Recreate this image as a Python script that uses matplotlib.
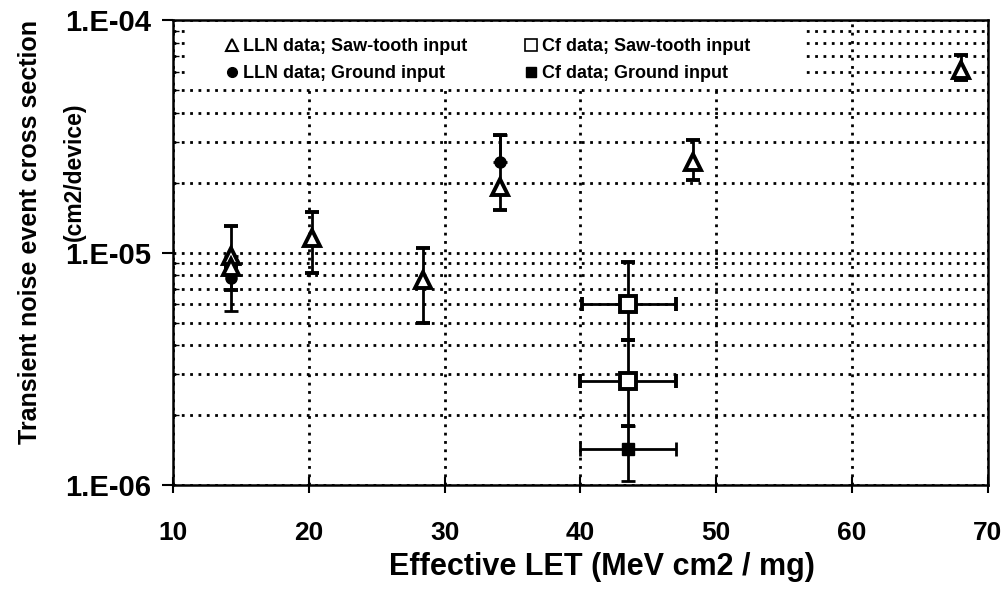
import matplotlib
matplotlib.use("Agg")
import matplotlib.pyplot as plt
from matplotlib.lines import Line2D
from matplotlib.patches import Rectangle
import numpy as np

plt.rcParams['font.family'] = ['Liberation Sans', 'DejaVu Sans']
plt.rcParams['font.weight'] = 'bold'

# LLN data, saw-tooth input (triangles)
lln_saw_let = [14.3, 14.3, 20.2, 28.4, 34.1, 48.3, 68.0]
lln_saw_xs = [9.7e-6, 8.7e-6, 1.15e-5, 7.6e-6, 1.92e-5, 2.45e-5, 6.1e-5]
lln_saw_lo = [6.9e-6, 8.7e-6, 8.2e-6, 5.0e-6, 1.52e-5, 2.05e-5, 5.5e-5]
lln_saw_hi = [1.3e-5, 8.7e-6, 1.5e-5, 1.05e-5, 3.2e-5, 3.05e-5, 7.1e-5]

# LLN data, ground input (filled circles)
lln_gnd_let = [14.3, 34.1]
lln_gnd_xs = [7.8e-6, 2.45e-5]
lln_gnd_lo = [5.6e-6, 2.45e-5]
lln_gnd_hi = [9.7e-6, 3.2e-5]

# Cf data, saw-tooth input (open squares)
cf_saw_let = [43.5, 43.5]
cf_saw_xs = [6.0e-6, 2.8e-6]
cf_saw_lo = [4.2e-6, 1.8e-6]
cf_saw_hi = [9.1e-6, 4.2e-6]
cf_saw_let_lo = [40.1, 40.0]
cf_saw_let_hi = [47.0, 47.0]

# Cf data, ground input (filled square)
cf_gnd_let = [43.5]
cf_gnd_xs = [1.43e-6]
cf_gnd_lo = [1.04e-6]
cf_gnd_hi = [1.8e-6]
cf_gnd_let_lo = [40.0]
cf_gnd_let_hi = [47.0]

x_ticks = [10, 20, 30, 40, 50, 60, 70]
y_ticks = [1e-6, 1e-5, 1e-4]
y_tick_labels = ['1.E-06', '1.E-05', '1.E-04']

legend_labels = ['LLN data; Saw-tooth input', 'LLN data; Ground input',
                 'Cf data; Saw-tooth input', 'Cf data; Ground input']

fig = plt.figure(figsize=(10.01, 5.92), dpi=100)
ax = fig.add_axes([0.1728, 0.1807, 0.8142, 0.7855])
ax.set_yscale('log')
ax.set_xlim(10, 70)
ax.set_ylim(1e-6, 1e-4)

grid_kw = dict(color='black', linewidth=2.0, linestyle=(0, (1, 2)), zorder=1)
ax.set_xticks(x_ticks)
ax.set_xticklabels([str(t) for t in x_ticks], fontsize=19, fontweight='bold')
ax.set_yticks(y_ticks)
ax.set_yticklabels(y_tick_labels, fontsize=21, fontweight='bold')
ax.yaxis.set_minor_formatter(matplotlib.ticker.NullFormatter())
ax.grid(True, which='major', axis='x', **grid_kw)
ax.grid(True, which='both', axis='y', **grid_kw)
ax.tick_params(axis='x', which='major', direction='inout', length=12, width=1.5, pad=20)
ax.tick_params(axis='y', which='major', direction='out', length=8, width=1.5, pad=8)
ax.tick_params(axis='y', which='minor', direction='in', length=4, width=1.0)
for s in ax.spines.values():
    s.set_linewidth(1.8)
    s.set_zorder(5)

def asym(v, lo, hi):
    v = np.asarray(v)
    return [v - np.asarray(lo), np.asarray(hi) - v]

eb = dict(ecolor='black', elinewidth=2.0, capsize=5, capthick=2.0, linestyle='none', zorder=3)

ax.errorbar(lln_gnd_let, lln_gnd_xs, yerr=asym(lln_gnd_xs, lln_gnd_lo, lln_gnd_hi),
            marker='o', markersize=8, markerfacecolor='black', markeredgecolor='black', **eb)
ax.errorbar(lln_saw_let, lln_saw_xs, yerr=asym(lln_saw_xs, lln_saw_lo, lln_saw_hi),
            marker='^', markersize=12, markerfacecolor='white', markeredgecolor='black',
            markeredgewidth=2.8, **eb)
ax.errorbar(cf_saw_let, cf_saw_xs, yerr=asym(cf_saw_xs, cf_saw_lo, cf_saw_hi),
            xerr=asym(cf_saw_let, cf_saw_let_lo, cf_saw_let_hi),
            marker='s', markersize=11, markerfacecolor='white', markeredgecolor='black',
            markeredgewidth=2.8, **eb)
ax.errorbar(cf_gnd_let, cf_gnd_xs, yerr=asym(cf_gnd_xs, cf_gnd_lo, cf_gnd_hi),
            xerr=asym(cf_gnd_let, cf_gnd_let_lo, cf_gnd_let_hi),
            marker='s', markersize=9, markerfacecolor='black', markeredgecolor='black', **eb)

# white panel behind the legend, hiding the grid there
ax.add_patch(Rectangle((0.0147, 0.858), 0.758, 0.133, transform=ax.transAxes,
                       facecolor='white', edgecolor='none', zorder=2))

handles = [
    Line2D([], [], marker='^', color='black', markerfacecolor='white', markersize=9,
           markeredgewidth=1.5, linestyle='none'),
    Line2D([], [], marker='o', color='black', markersize=7, linestyle='none'),
    Line2D([], [], marker='s', color='black', markerfacecolor='white', markersize=8,
           markeredgewidth=1.2, linestyle='none'),
    Line2D([], [], marker='s', color='black', markersize=7, linestyle='none'),
]
leg = ax.legend(handles, legend_labels, ncol=2, loc='upper left',
                bbox_to_anchor=(0.065, 0.961), frameon=False, borderpad=0,
                borderaxespad=0, handlelength=0.7, handletextpad=0.25,
                labelspacing=0.55, columnspacing=3.2,
                prop={'size': 13, 'weight': 'bold'})
leg.set_zorder(4)

fig.text(602 / 1001, 1 - 567 / 592, 'Effective LET (MeV cm2 / mg)', fontsize=22,
         fontweight='bold', ha='center', va='center')
fig.text(30 / 1001, 1 - 232 / 592, 'Transient noise event cross section', fontsize=18,
         fontweight='bold', ha='center', va='center', rotation=90)
fig.text(74 / 1001, 1 - 172 / 592, '(cm2/device)', fontsize=16.5,
         fontweight='bold', ha='center', va='center', rotation=90)

fig.savefig('out.png', dpi=100)
